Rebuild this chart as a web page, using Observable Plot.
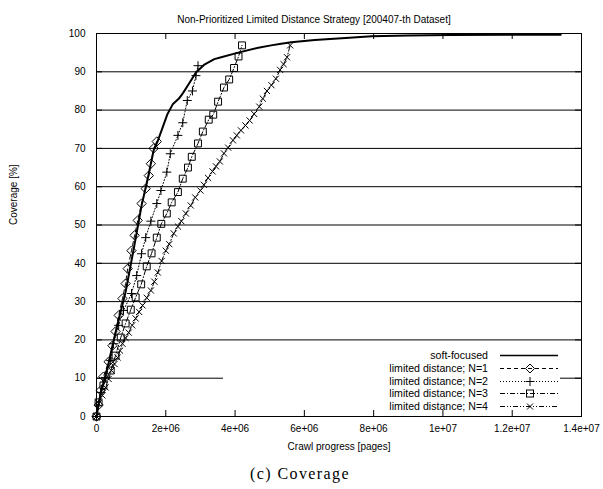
<!DOCTYPE html>
<html><head><meta charset="utf-8">
<script src="https://cdn.jsdelivr.net/npm/d3@7"></script>
<script src="https://cdn.jsdelivr.net/npm/@observablehq/plot@0.6"></script>
<style>
body{margin:0;background:#fff}
#wrap{position:relative;width:603px;height:489px;font-family:"Liberation Sans",Arial,Helvetica,sans-serif;background:#fff}
#legend{position:absolute;left:223px;top:347px;width:337px;height:62px;background:#fff}
.row{position:absolute;left:0;width:337px;height:13px;font-size:10.6px;line-height:13px}
.row span{position:absolute;right:72px;white-space:nowrap}
.row svg{position:absolute;left:277px;top:0}
#caption{position:absolute;top:465px;left:0;width:600px;text-align:center;font-family:"Liberation Serif","Times New Roman",serif;font-size:16px;letter-spacing:1.4px}
</style></head>
<body><div id="wrap"></div>
<script>
// ---- data (x = crawl progress in pages, y = coverage %) ----
const title = "Non-Prioritized Limited Distance Strategy [200407-th Dataset]";
const xLabel = "Crawl progress [pages]";
const yLabel = "Coverage [%]";
const caption = "(c) Coverage";
const seriesNames = ["soft-focused","limited distance; N=1","limited distance; N=2","limited distance; N=3","limited distance; N=4"];
const xTickVals = [0,2e6,4e6,6e6,8e6,1e7,1.2e7,1.4e7];
const xTickLabels = ["0","2e+06","4e+06","6e+06","8e+06","1e+07","1.2e+07","1.4e+07"];
const yTickVals = [0,10,20,30,40,50,60,70,80,90,100];
const gridY = [10,20,30,40,50,60,70,80,90];

const softFocused = [[0,0],[0.12e6,6],[0.35e6,14],[0.55e6,22],[0.84e6,32.5],[1.1e6,45],[1.3e6,55],[1.5e6,63],[1.65e6,69.5],[1.77e6,72],[1.91e6,75.5],[2.05e6,79],[2.2e6,81.5],[2.38e6,83],[2.5e6,84.5],[2.64e6,86.5],[2.87e6,89.8],[3.1e6,91.8],[3.4e6,93.3],[3.6e6,93.8],[4.09e6,95],[4.67e6,96.3],[5.04e6,96.9],[5.33e6,97.3],[5.62e6,97.7],[6.3e6,98.3],[7.3e6,98.9],[7.94e6,99.3],[9.0e6,99.5],[10.2e6,99.6],[12.0e6,99.7],[13.4e6,99.7]];
const limitedN1 = [[0,0],[0.06e6,3],[0.12e6,6.8],[0.2e6,10.4],[0.35e6,14.3],[0.46e6,18.5],[0.55e6,22.2],[0.64e6,26.4],[0.75e6,30.8],[0.84e6,34.7],[0.9e6,38.6],[1.01e6,43.3],[1.1e6,47.3],[1.19e6,51.2],[1.3e6,55.6],[1.42e6,59.5],[1.51e6,62.9],[1.57e6,66],[1.65e6,70],[1.74e6,71.8]];
const limitedN2 = [[0,0],[0.12e6,6.3],[0.26e6,10.2],[0.41e6,14.6],[0.49e6,19],[0.64e6,23.8],[0.78e6,27.7],[1.01e6,32.1],[1.16e6,36.8],[1.3e6,42.5],[1.42e6,46.7],[1.57e6,51],[1.74e6,55.6],[1.86e6,59],[2.03e6,63.8],[2.13e6,68.6],[2.35e6,73.4],[2.49e6,76.7],[2.62e6,82.5],[2.77e6,85],[2.87e6,89],[2.93e6,91.6]];
const limitedN3 = [[0,0],[0.06e6,3.7],[0.2e6,8.1],[0.41e6,12],[0.55e6,15.9],[0.7e6,20.6],[0.84e6,24.3],[0.99e6,27.9],[1.13e6,31.1],[1.29e6,34.5],[1.45e6,39.2],[1.59e6,42.6],[1.74e6,46.7],[1.87e6,50.3],[2.03e6,53],[2.17e6,55.9],[2.35e6,58.6],[2.49e6,62.1],[2.64e6,65],[2.75e6,67.8],[2.93e6,71.3],[3.07e6,74.4],[3.24e6,77.5],[3.37e6,78.8],[3.51e6,82.2],[3.68e6,85.9],[3.83e6,88],[3.97e6,91],[4.1e6,94],[4.2e6,96.9]];
const limitedN4 = [[0,0],[0.06e6,3.4],[0.17e6,5.5],[0.26e6,7.6],[0.35e6,9.8],[0.43e6,12],[0.52e6,13.7],[0.61e6,15.4],[0.68e6,17.2],[0.75e6,19],[0.84e6,20.5],[0.93e6,21.9],[1.03e6,23.8],[1.13e6,25.6],[1.23e6,27.3],[1.33e6,29],[1.45e6,31],[1.57e6,32.9],[1.67e6,35.2],[1.77e6,37.6],[1.88e6,40.6],[2.0e6,43.3],[2.1e6,45],[2.23e6,47.8],[2.35e6,49.6],[2.45e6,51],[2.58e6,53],[2.72e6,55.1],[2.85e6,57.2],[3.0e6,59],[3.1e6,60.5],[3.22e6,62.3],[3.35e6,64],[3.45e6,65.3],[3.56e6,66.6],[3.68e6,68.7],[3.8e6,70.2],[3.94e6,72.1],[4.05e6,73.4],[4.17e6,74.7],[4.3e6,76],[4.42e6,77.3],[4.55e6,79],[4.7e6,80.9],[4.8e6,83],[4.92e6,85],[5.05e6,86.5],[5.18e6,88.2],[5.3e6,90.5],[5.4e6,92],[5.5e6,93.8],[5.59e6,96.9]];

// ---- styles ----
const styles = [
  {pts: softFocused, dash: null, sw: 2, symbol: null, r: 0},
  {pts: limitedN1, dash: "4,3", sw: 1, symbol: "diamond2", r: 4.2},
  {pts: limitedN2, dash: "1,2", sw: 1, symbol: "plus", r: 3.0},
  {pts: limitedN3, dash: "5,2,1,2", sw: 1, symbol: "square2", r: 4.4},
  {pts: limitedN4, dash: "5,2,1,2,1,2", sw: 1, symbol: "times", r: 2.9}
];

const W = 603, H = 460, mT = 33, mB = 44, mL = 96, mR = 22;
const pw = W - mL - mR, ph = H - mT - mB, tk = 6;
const toRows = pts => pts.map(([x, y]) => ({x, y}));

const marks = [
  Plot.ruleY(gridY, {stroke: "#000", strokeWidth: 1}),
  Plot.frame({stroke: "#000", strokeWidth: 1}),
  Plot.tickX(xTickVals, {x: d => d, insetTop: ph - tk, stroke: "#000"}),
  Plot.tickX(xTickVals, {x: d => d, insetBottom: ph - tk, stroke: "#000"}),
  Plot.tickY(yTickVals, {y: d => d, insetRight: pw - tk, stroke: "#000"}),
  Plot.tickY(yTickVals, {y: d => d, insetLeft: pw - tk, stroke: "#000"}),
  Plot.axisX({ticks: xTickVals, tickSize: 0, tickPadding: 8, tickFormat: d => xTickLabels[xTickVals.indexOf(d)], label: null, fontSize: 10}),
  Plot.axisY({ticks: yTickVals, tickSize: 0, tickPadding: 11, label: null, fontSize: 10}),
  Plot.text([xLabel], {frameAnchor: "bottom", dy: 33, text: d => d, fontSize: 10}),
  Plot.text([yLabel], {frameAnchor: "left", dx: -83, rotate: -90, text: d => d, fontSize: 10}),
  Plot.text([title], {frameAnchor: "top", dy: -18, dx: -25, text: d => d, fontSize: 10})
];
for (const s of styles.slice(1).reverse()) {
  marks.push(Plot.line(toRows(s.pts), {x: "x", y: "y", stroke: "#000", strokeWidth: s.sw, strokeDasharray: s.dash}));
  marks.push(Plot.dot(toRows(s.pts), {x: "x", y: "y", symbol: s.symbol, r: s.r, stroke: "#000", fill: "none", strokeWidth: 1}));
}
marks.push(Plot.line(toRows(softFocused), {x: "x", y: "y", stroke: "#000", strokeWidth: 2}));

const chart = Plot.plot({
  width: W, height: H, marginTop: mT, marginBottom: mB, marginLeft: mL, marginRight: mR,
  style: {fontFamily: '"Liberation Sans", Arial, Helvetica, sans-serif', fontSize: "10px", color: "#000", background: "#fff"},
  x: {domain: [0, 1.4e7]},
  y: {domain: [0, 100]},
  marks
});
const wrap = document.getElementById("wrap");
wrap.appendChild(chart);

// legend (overlay box inside plot area)
const legend = document.createElement("div");
legend.id = "legend";
const symPath = {
  "diamond2": '<path d="M30,2 L34.5,6.5 L30,11 L25.5,6.5 Z" fill="none" stroke="#000"/>',
  "plus": '<path d="M30,2 V11 M25.5,6.5 H34.5" stroke="#000"/>',
  "square2": '<rect x="26.5" y="3" width="7" height="7" fill="none" stroke="#000"/>',
  "times": '<path d="M27,3.5 L33,9.5 M33,3.5 L27,9.5" stroke="#000"/>'
};
seriesNames.forEach((name, i) => {
  const s = styles[i];
  const row = document.createElement("div");
  row.className = "row";
  row.style.top = (2 + i * 12.8) + "px";
  const dash = s.dash ? `stroke-dasharray="${s.dash}"` : "";
  row.innerHTML = `<span>${name}</span><svg width="60" height="13"><line x1="0" x2="58" y1="6.5" y2="6.5" stroke="#000" stroke-width="${i === 0 ? 1.3 : 1}" ${dash}/>${s.symbol ? symPath[s.symbol] : ""}</svg>`;
  legend.appendChild(row);
});
wrap.appendChild(legend);

const cap = document.createElement("div");
cap.id = "caption";
cap.textContent = caption;
wrap.appendChild(cap);
</script>
</body></html>
